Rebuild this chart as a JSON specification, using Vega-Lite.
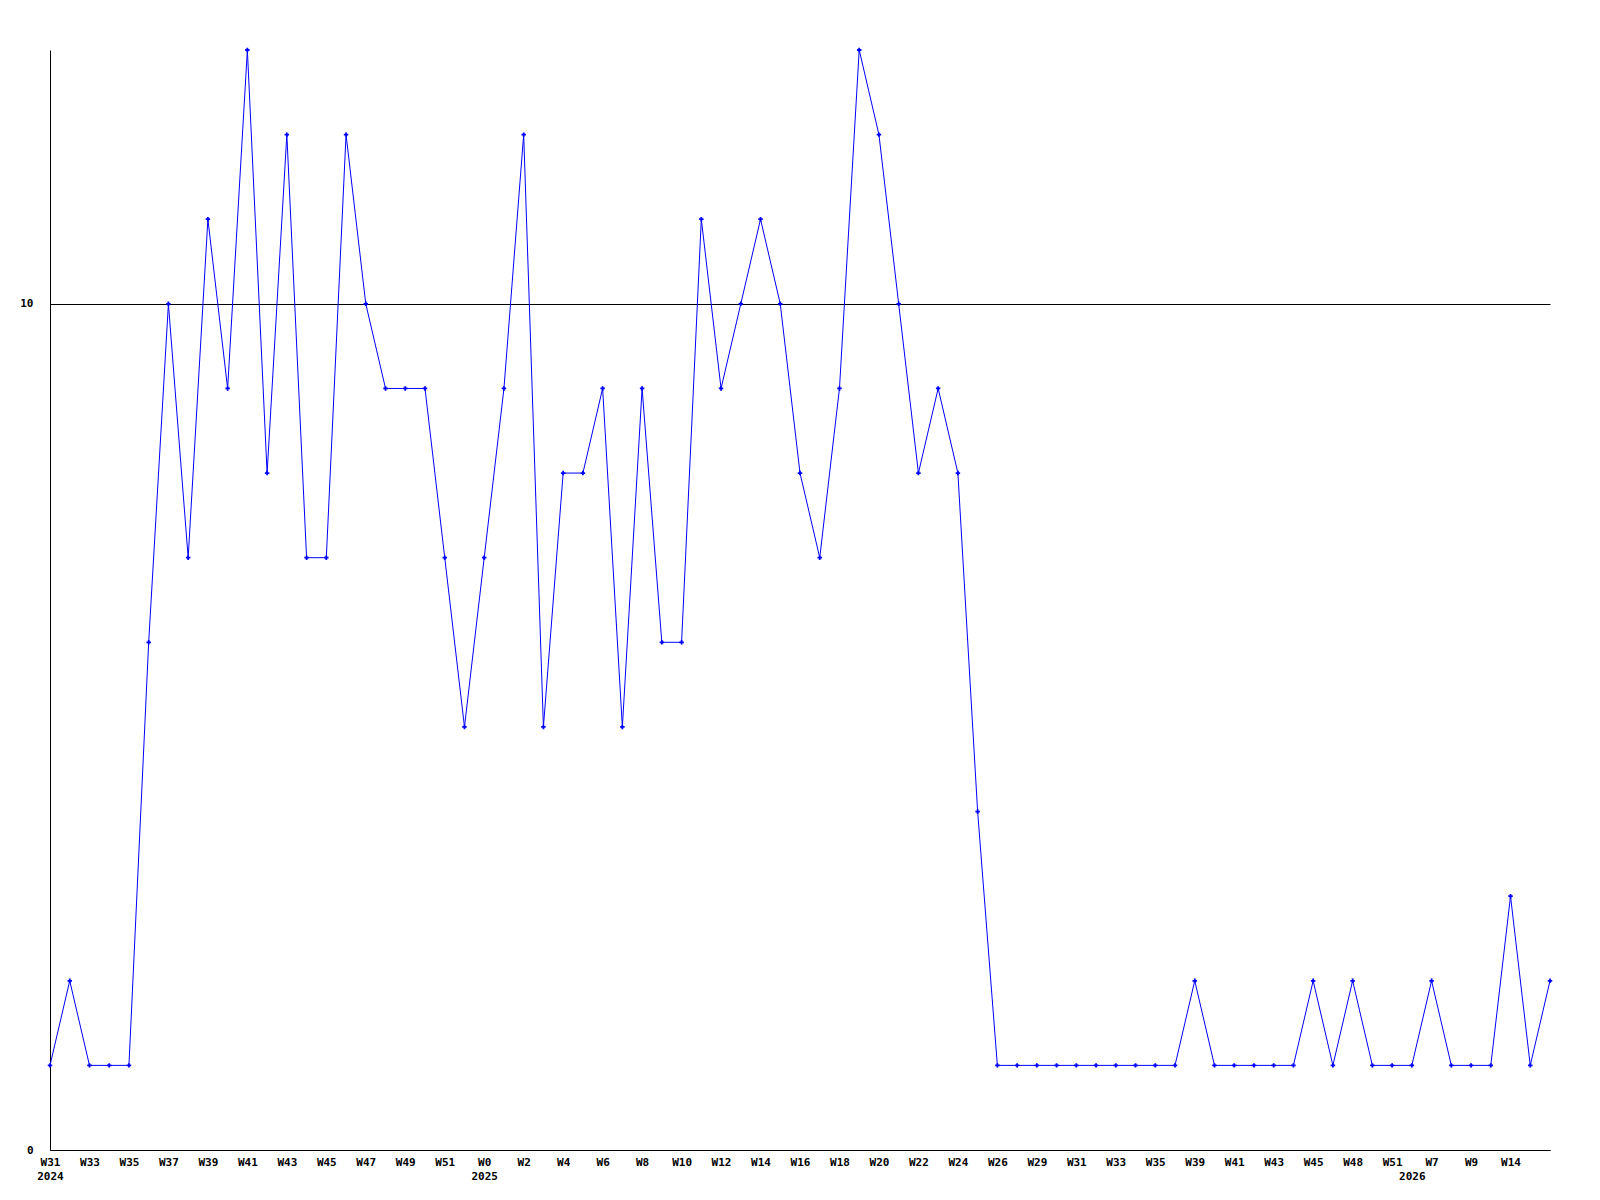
{
  "$schema": "https://vega.github.io/schema/vega-lite/v6.json",
  "width": 1500,
  "height": 1100,
  "autosize": {"type": "none"},
  "padding": {"left": 50, "top": 50, "right": 50, "bottom": 50},
  "background": "white",
  "config": {"view": {"stroke": null}},
  "data": {"values": [
    {"week": "2024-W31", "count": 1},
    {"week": "2024-W32", "count": 2},
    {"week": "2024-W33", "count": 1},
    {"week": "2024-W34", "count": 1},
    {"week": "2024-W35", "count": 1},
    {"week": "2024-W36", "count": 6},
    {"week": "2024-W37", "count": 10},
    {"week": "2024-W38", "count": 7},
    {"week": "2024-W39", "count": 11},
    {"week": "2024-W40", "count": 9},
    {"week": "2024-W41", "count": 13},
    {"week": "2024-W42", "count": 8},
    {"week": "2024-W43", "count": 12},
    {"week": "2024-W44", "count": 7},
    {"week": "2024-W45", "count": 7},
    {"week": "2024-W46", "count": 12},
    {"week": "2024-W47", "count": 10},
    {"week": "2024-W48", "count": 9},
    {"week": "2024-W49", "count": 9},
    {"week": "2024-W50", "count": 9},
    {"week": "2024-W51", "count": 7},
    {"week": "2024-W52", "count": 5},
    {"week": "2025-W0", "count": 7},
    {"week": "2025-W1", "count": 9},
    {"week": "2025-W2", "count": 12},
    {"week": "2025-W3", "count": 5},
    {"week": "2025-W4", "count": 8},
    {"week": "2025-W5", "count": 8},
    {"week": "2025-W6", "count": 9},
    {"week": "2025-W7", "count": 5},
    {"week": "2025-W8", "count": 9},
    {"week": "2025-W9", "count": 6},
    {"week": "2025-W10", "count": 6},
    {"week": "2025-W11", "count": 11},
    {"week": "2025-W12", "count": 9},
    {"week": "2025-W13", "count": 10},
    {"week": "2025-W14", "count": 11},
    {"week": "2025-W15", "count": 10},
    {"week": "2025-W16", "count": 8},
    {"week": "2025-W17", "count": 7},
    {"week": "2025-W18", "count": 9},
    {"week": "2025-W19", "count": 13},
    {"week": "2025-W20", "count": 12},
    {"week": "2025-W21", "count": 10},
    {"week": "2025-W22", "count": 8},
    {"week": "2025-W23", "count": 9},
    {"week": "2025-W24", "count": 8},
    {"week": "2025-W25", "count": 4},
    {"week": "2025-W26", "count": 1},
    {"week": "2025-W27", "count": 1},
    {"week": "2025-W29", "count": 1},
    {"week": "2025-W30", "count": 1},
    {"week": "2025-W31", "count": 1},
    {"week": "2025-W32", "count": 1},
    {"week": "2025-W33", "count": 1},
    {"week": "2025-W34", "count": 1},
    {"week": "2025-W35", "count": 1},
    {"week": "2025-W37", "count": 1},
    {"week": "2025-W39", "count": 2},
    {"week": "2025-W40", "count": 1},
    {"week": "2025-W41", "count": 1},
    {"week": "2025-W42", "count": 1},
    {"week": "2025-W43", "count": 1},
    {"week": "2025-W44", "count": 1},
    {"week": "2025-W45", "count": 2},
    {"week": "2025-W46", "count": 1},
    {"week": "2025-W48", "count": 2},
    {"week": "2025-W49", "count": 1},
    {"week": "2025-W51", "count": 1},
    {"week": "2026-W1", "count": 1},
    {"week": "2026-W7", "count": 2},
    {"week": "2026-W8", "count": 1},
    {"week": "2026-W9", "count": 1},
    {"week": "2026-W11", "count": 1},
    {"week": "2026-W14", "count": 3},
    {"week": "2026-W15", "count": 1},
    {"week": "2026-W16", "count": 2}
  ]},
  "mark": {
    "type": "line",
    "color": "#0000ff",
    "strokeWidth": 1,
    "point": {"shape": "cross", "size": 20, "filled": true, "color": "#0000ff"}
  },
  "encoding": {
    "x": {
      "field": "week",
      "type": "ordinal",
      "sort": null,
      "scale": {"type": "point", "padding": 0},
      "axis": {
        "title": null,
        "values": ["2024-W31","2024-W33","2024-W35","2024-W37","2024-W39","2024-W41","2024-W43","2024-W45","2024-W47","2024-W49","2024-W51","2025-W0","2025-W2","2025-W4","2025-W6","2025-W8","2025-W10","2025-W12","2025-W14","2025-W16","2025-W18","2025-W20","2025-W22","2025-W24","2025-W26","2025-W29","2025-W31","2025-W33","2025-W35","2025-W39","2025-W41","2025-W43","2025-W45","2025-W48","2025-W51","2026-W1","2026-W7","2026-W9","2026-W14"],
        "labelExpr": "datum.value == '2024-W31' ? ['W31','2024'] : datum.value == '2025-W0' ? ['W0','2025'] : datum.value == '2026-W1' ? ['','2026'] : split(datum.value,'-')[1]",
        "labelAngle": 0,
        "labelAlign": "center",
        "labelBaseline": "top",
        "labelOverlap": false,
        "labelFlush": false,
        "labelFont": "DejaVu Sans Mono",
        "labelFontWeight": "bold",
        "labelFontSize": 11,
        "labelColor": "black",
        "labelLineHeight": 14,
        "labelPadding": 6,
        "ticks": false,
        "tickSize": 0,
        "grid": false,
        "domainColor": "black",
        "domainWidth": 1
      }
    },
    "y": {
      "field": "count",
      "type": "quantitative",
      "scale": {"domain": [0, 13], "nice": false, "zero": true},
      "axis": {
        "title": null,
        "values": [0, 10],
        "grid": true,
        "gridColor": "black",
        "gridOpacity": 1,
        "gridWidth": 1,
        "ticks": false,
        "tickSize": 0,
        "labelPadding": 17,
        "labelFont": "DejaVu Sans Mono",
        "labelFontWeight": "bold",
        "labelFontSize": 11,
        "labelColor": "black",
        "labelFlush": false,
        "domainColor": "black",
        "domainWidth": 1
      }
    }
  }
}
